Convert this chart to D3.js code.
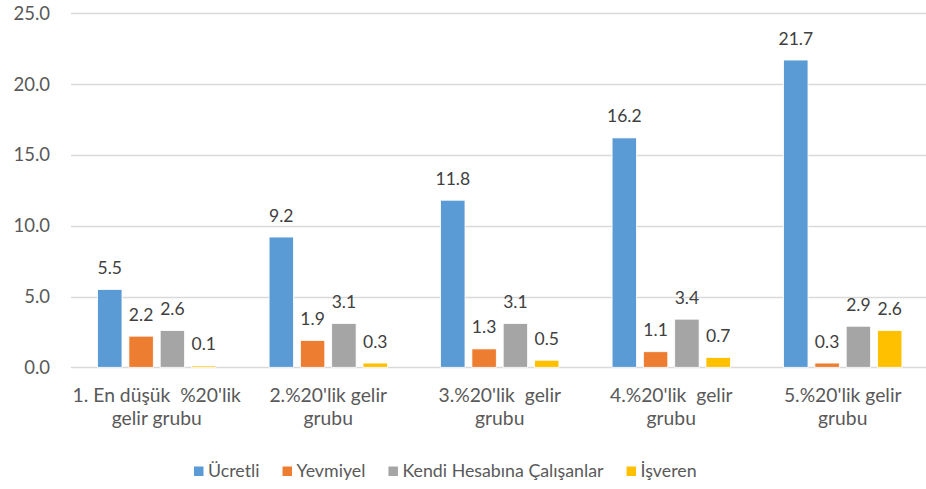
<!DOCTYPE html>
<html>
<head>
<meta charset="utf-8">
<script src="https://cdn.jsdelivr.net/npm/d3@7"></script>
<style>
  body { margin: 0; background: #fff; }
  text { font-family: Lato, "Open Sans", sans-serif; fill: #595959; }
</style>
</head>
<body>
<div id="chart"></div>
<script>
// Data
var categories = [
    ["1. En düşük  %20'lik", "gelir grubu"],
    ["2.%20'lik gelir", "grubu"],
    ["3.%20'lik  gelir", "grubu"],
    ["4.%20'lik  gelir", "grubu"],
    ["5.%20'lik gelir", "grubu"]
];
var seriesNames = ["Ücretli", "Yevmiyel", "Kendi Hesabına Çalışanlar", "İşveren"];
var ucretli = [5.5, 9.2, 11.8, 16.2, 21.7];
var yevmiyel = [2.2, 1.9, 1.3, 1.1, 0.3];
var kendiHesabina = [2.6, 3.1, 3.1, 3.4, 2.9];
var isveren = [0.1, 0.3, 0.5, 0.7, 2.6];
var yTicks = [0, 5, 10, 15, 20, 25];

var seriesValues = [ucretli, yevmiyel, kendiHesabina, isveren];
var colors = ["#5B9BD5", "#ED7D31", "#A5A5A5", "#FFC000"];

// Sizing
var width = 926, height = 489;
var svg = d3.select("#chart").append("svg")
    .attr("width", width)
    .attr("height", height);

var x0 = d3.scaleBand()
    .domain(d3.range(categories.length))
    .range([71, 928.5])
    .paddingInner(0.31)
    .paddingOuter(0.155);

var x1 = d3.scaleBand()
    .domain(d3.range(seriesNames.length))
    .range([0, x0.bandwidth()])
    .paddingInner(0.22);

var y = d3.scaleLinear()
    .domain([0, 25])
    .range([367.3, 13.3]);

// Gridlines
svg.append("g")
    .selectAll("line")
    .data(yTicks)
    .join("line")
    .attr("x1", 71)
    .attr("x2", width)
    .attr("y1", function(d) { return Math.round(y(d)) + 0.5; })
    .attr("y2", function(d) { return Math.round(y(d)) + 0.5; })
    .attr("stroke", "#D9D9D9")
    .attr("stroke-width", 1.3);

// Y axis labels
var yAxis = svg.append("g")
    .attr("transform", "translate(50,0)")
    .call(d3.axisLeft(y).tickValues(yTicks).tickFormat(d3.format(".1f")).tickSize(0).tickPadding(0));
yAxis.select(".domain").remove();
yAxis.selectAll("text")
    .style("font-size", "18.5px")
    .attr("fill", "#595959")
    .style("font-family", "Lato, 'Open Sans', sans-serif");

// Bars
var groups = svg.append("g")
    .selectAll("g")
    .data(categories)
    .join("g")
    .attr("transform", function(d, i) { return "translate(" + x0(i) + ",0)"; });

groups.selectAll("rect")
    .data(function(d, i) {
        return seriesValues.map(function(s, k) { return {k: k, v: s[i]}; });
    })
    .join("rect")
    .attr("x", function(d) { return x1(d.k); })
    .attr("y", function(d) { return y(d.v); })
    .attr("width", x1.bandwidth())
    .attr("height", function(d) { return y(0) - y(d.v); })
    .attr("fill", function(d) { return colors[d.k]; })
    .attr("stroke", "#fff")
    .attr("stroke-width", 0.8);

// Data labels
groups.selectAll("text.lbl")
    .data(function(d, i) {
        return seriesValues.map(function(s, k) { return {k: k, v: s[i]}; });
    })
    .join("text")
    .attr("class", "lbl")
    .attr("x", function(d) { return x1(d.k) + x1.bandwidth() / 2; })
    .attr("y", function(d) { return y(d.v) - 15.5; })
    .attr("text-anchor", "middle")
    .style("font-size", "17.5px")
    .style("fill", "#404040")
    .text(function(d) { return d.v.toFixed(1); });

// Category labels
var cat = svg.append("g")
    .selectAll("text")
    .data(categories)
    .join("text")
    .attr("text-anchor", "middle")
    .style("font-size", "19.3px")
    .style("white-space", "pre")
    .attr("x", function(d, i) { return x0(i) + x0.bandwidth() / 2; });

cat.selectAll("tspan")
    .data(function(d) { return d; })
    .join("tspan")
    .attr("x", function() { return this.parentNode.getAttribute("x"); })
    .attr("y", function(d, j) { return 401.5 + j * 23.5; })
    .text(function(d) { return d; });

// Legend
var legend = svg.append("g");
var lx = 194;
seriesNames.forEach(function(name, k) {
    legend.append("rect")
        .attr("x", lx)
        .attr("y", 466.5)
        .attr("width", 9.5)
        .attr("height", 9.5)
        .attr("fill", colors[k]);
    var t = legend.append("text")
        .attr("x", lx + 14)
        .attr("y", 476.5)
        .style("font-size", "17.8px")
        .text(name);
    lx = lx + 14 + t.node().getComputedTextLength() + 23;
});
</script>
</body>
</html>
